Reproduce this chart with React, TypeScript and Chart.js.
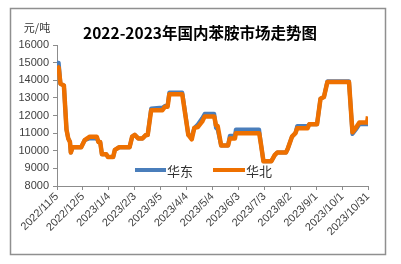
import React, { useEffect, useRef } from "react";
import { Chart, registerables } from "chart.js";

Chart.register(...registerables);

const startDate = [2022, 10, 5]; // 2022/11/5
const tickStepDays = 30;
const maxDay = 360;
const yTicks = [8000, 9000, 10000, 11000, 12000, 13000, 14000, 15000, 16000];
const seriesNames = ["华东", "华北"];
const title = "2022-2023年国内苯胺市场走势图";
const unitLabel = "元/吨";

// day offsets from 2022/11/5 and values of 华东 (east) and 华北 (north)
const eastDays = [0, 2, 4, 8, 11, 13, 15, 16, 18, 28, 32, 38, 46, 48, 50, 52, 57, 59, 65, 67, 72, 84, 87, 90, 94, 99, 103, 105, 109, 122, 125, 128, 130, 145, 152, 156, 159, 163, 168, 171, 182, 184, 186, 190, 198, 200, 206, 207, 234, 236, 239, 248, 252, 255, 265, 267, 272, 276, 278, 290, 292, 301, 305, 309, 313, 338, 342, 346, 350, 360];
const eastValues = [15000, 15000, 13800, 13700, 11200, 10700, 10500, 9900, 10200, 10200, 10600, 10700, 10700, 10500, 10500, 9800, 9800, 9650, 9650, 10050, 10200, 10200, 10800, 10900, 10700, 10700, 10900, 10900, 12400, 12450, 12550, 12550, 13300, 13300, 10900, 10800, 11300, 11500, 11850, 12100, 12100, 11300, 11200, 10300, 10300, 10850, 10850, 11200, 11200, 10400, 9400, 9400, 9750, 9900, 9900, 10100, 10800, 11000, 11400, 11400, 11500, 11500, 12950, 13050, 13950, 13950, 10950, 11200, 11500, 11500];

const northDays = [0, 2, 4, 8, 11, 13, 15, 16, 18, 28, 32, 38, 46, 48, 50, 52, 57, 59, 65, 67, 72, 84, 87, 90, 94, 99, 103, 105, 109, 122, 125, 128, 130, 145, 152, 156, 159, 163, 168, 171, 182, 184, 186, 190, 198, 200, 206, 207, 234, 236, 239, 248, 252, 255, 265, 267, 272, 276, 278, 290, 292, 301, 305, 309, 313, 338, 342, 346, 350, 359, 360];
const northValues = [14800, 14700, 13800, 13700, 11200, 10700, 10500, 9900, 10200, 10200, 10600, 10800, 10800, 10500, 10500, 9800, 9800, 9650, 9650, 10050, 10200, 10200, 10800, 10900, 10700, 10700, 10900, 10900, 12300, 12300, 12500, 12500, 13200, 13200, 10900, 10650, 11300, 11350, 11650, 11950, 11950, 11450, 11400, 10300, 10300, 10700, 10700, 11000, 11000, 10400, 9400, 9400, 9750, 9900, 9900, 10100, 10800, 11000, 11270, 11270, 11500, 11500, 12950, 13050, 13900, 13900, 11050, 11300, 11600, 11600, 11950];

const colors = ["#4a7ebb", "#ee7000"];

function dayLabel(d: number): string {
  const dt = new Date(startDate[0], startDate[1], startDate[2] + d);
  return `${dt.getFullYear()}/${dt.getMonth() + 1}/${dt.getDate()}`;
}

const decorPlugin = {
  id: "decor",
  beforeDraw(chart: any) {
    const ctx = chart.ctx;
    ctx.save();
    ctx.fillStyle = "#ffffff";
    ctx.fillRect(0, 0, chart.width, chart.height);
    ctx.restore();
  },
  afterDraw(chart: any) {
    const ctx = chart.ctx;
    const a = chart.chartArea;
    ctx.save();
    // frame
    ctx.strokeStyle = "#8f8f8f";
    ctx.lineWidth = 1.5;
    ctx.strokeRect(10.5, 8.5, 375, 246);
    // title
    ctx.fillStyle = "#000000";
    ctx.font = 'bold 15.5px "Noto Sans CJK SC"';
    ctx.textAlign = "center";
    ctx.textBaseline = "middle";
    ctx.fillText(title, 200, 33);
    // unit
    ctx.font = '11px "Noto Sans CJK SC"';
    ctx.fillStyle = "#333333";
    ctx.fillText(unitLabel, 37, 28);
    // legend
    const ly = a.bottom - 16;
    const items = [
      { x0: a.left + 78, x1: a.left + 109 },
      { x0: a.left + 156, x1: a.left + 188 },
    ];
    ctx.font = '13px "Noto Sans CJK SC"';
    ctx.textAlign = "left";
    items.forEach((it, i) => {
      ctx.strokeStyle = colors[i];
      ctx.lineWidth = 4;
      ctx.beginPath();
      ctx.moveTo(it.x0, ly);
      ctx.lineTo(it.x1, ly);
      ctx.stroke();
      ctx.fillStyle = "#333333";
      ctx.fillText(seriesNames[i], it.x1 + 1, ly + 1);
    });
    ctx.restore();
  },
};

export default function App() {
  const ref = useRef<HTMLCanvasElement | null>(null);
  useEffect(() => {
    if (!ref.current) return;
    const east = eastDays.map((d, i) => ({ x: d, y: eastValues[i] }));
    const north = northDays.map((d, i) => ({ x: d, y: northValues[i] }));
    const chart = new Chart(ref.current, {
      type: "line",
      data: {
        datasets: [
          {
            label: seriesNames[0],
            data: east,
            borderColor: colors[0],
            backgroundColor: colors[0],
            borderWidth: 4,
            pointRadius: 0,
            tension: 0,
            borderJoinStyle: "round",
            order: 1,
          },
          {
            label: seriesNames[1],
            data: north,
            borderColor: colors[1],
            backgroundColor: colors[1],
            borderWidth: 4.5,
            pointRadius: 0,
            tension: 0,
            borderJoinStyle: "round",
            order: 0,
          },
        ],
      },
      options: {
        animation: false,
        responsive: false,
        devicePixelRatio: 1,
        layout: { padding: { left: 0, top: 45, right: 33, bottom: 0 } },
        plugins: {
          legend: { display: false },
          tooltip: { enabled: false },
          title: { display: false },
        },
        scales: {
          x: {
            type: "linear",
            min: 0,
            max: maxDay,
            afterFit: (s: any) => {
              s.height = 78;
            },
            afterBuildTicks: (s: any) => {
              const t = [];
              for (let v = 0; v <= maxDay; v += tickStepDays) t.push({ value: v });
              s.ticks = t;
            },
            ticks: {
              minRotation: 45,
              maxRotation: 45,
              autoSkip: false,
              padding: 0,
              color: "#404040",
              font: { family: '"Liberation Sans"', size: 11 },
              callback: (v: any) => dayLabel(Number(v)),
            },
            grid: {
              drawOnChartArea: false,
              drawTicks: true,
              tickLength: 4,
              color: "#8c8c8c",
            },
            border: { color: "#8c8c8c", width: 1 },
          },
          y: {
            min: yTicks[0],
            max: yTicks[yTicks.length - 1],
            afterFit: (s: any) => {
              s.width = 57;
            },
            afterBuildTicks: (s: any) => {
              s.ticks = yTicks.map((v) => ({ value: v }));
            },
            ticks: {
              padding: 4,
              color: "#404040",
              font: { family: '"Liberation Sans"', size: 11 },
              callback: (v: any) => String(v),
            },
            grid: {
              drawOnChartArea: false,
              drawTicks: true,
              tickLength: 4,
              color: "#8c8c8c",
            },
            border: { color: "#8c8c8c", width: 1 },
          },
        },
      },
      plugins: [decorPlugin],
    });
    return () => chart.destroy();
  }, []);
  return (
    <div style={{ position: "absolute", left: 0, top: 0, width: 401, height: 264 }}>
      <canvas ref={ref} width={401} height={264} style={{ width: 401, height: 264 }} />
    </div>
  );
}
